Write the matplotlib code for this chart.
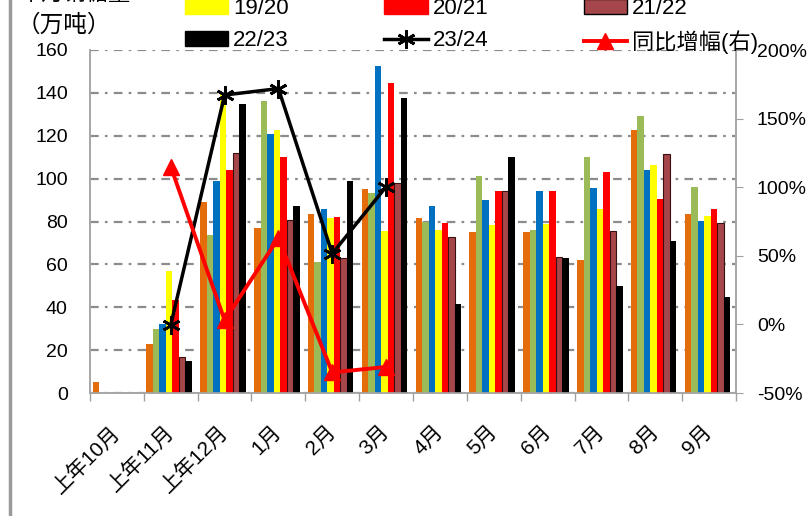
import numpy as np
import matplotlib
matplotlib.use('Agg')
import matplotlib.pyplot as plt
from matplotlib.patches import Patch
from matplotlib.lines import Line2D

plt.rcParams['font.family'] = ['Liberation Sans', 'Noto Sans CJK SC']

# 数据
months = ['上年10月', '上年11月', '上年12月', '1月', '2月', '3月',
          '4月', '5月', '6月', '7月', '8月', '9月']
s1617 = [5, 23, 89, 77, 83.5, 95, 81.5, 75, 75, 62, 122.5, 83.5]
s1718 = [0, 30, 73.7, 136, 61, 93.4, 80, 101, 76, 110, 129, 96]
s1819 = [0, 32, 99, 121, 85.7, 152.5, 87, 90, 94.4, 95.8, 104, 80.4]
s1920 = [0, 57, 140, 122.7, 81.8, 75.6, 76, 78.4, 79, 86, 106.3, 82.7]
s2021 = [0, 43.4, 104, 110, 82.3, 144.7, 79.4, 94, 94, 103, 90.6, 85.7]
s2122 = [0, 17, 112, 80.7, 62.8, 97.8, 73, 94, 63.6, 75.7, 111.3, 79.4]
s2223 = [0, 14.8, 135, 87.2, 99, 137.4, 41.5, 110.2, 62.8, 50.1, 71, 44.6]
s2324 = [31.7, 139, 142, 65, 96.2]          # 上年11月 ~ 3月
yoy = [115, 3, 63, -35, -31]                 # 同比增幅 %

bar_series = [s1617, s1718, s1819, s1920, s2021, s2122, s2223]
bar_names = ['16/17', '17/18', '18/19', '19/20', '20/21', '21/22', '22/23']
bar_colors = ['#E46C0A', '#9BBB59', '#0070C0', '#FFFF00', '#FF0000', '#A5474A', '#000000']

fig = plt.figure(figsize=(8.07, 5.16), dpi=100)
ax = fig.add_axes([90/807, 1-393/516, (736-90)/807, (393-50)/516])
ax2 = ax.twinx()

x = np.arange(len(months))
w = 0.121
for i, (vals, c) in enumerate(zip(bar_series, bar_colors)):
    ec = '#3a1010' if bar_names[i] == '21/22' else c
    ax.bar(x + (i - 3) * w - 0.03, vals, width=w, color=c, edgecolor=ec,
           linewidth=0.8 if bar_names[i] == '21/22' else 0, zorder=3)

xl = x[1:6]
ax.plot(xl, s2324, color='black', lw=2.5, marker=(6, 2, 0), ms=13, mew=2, zorder=5)
ax2.plot(xl, yoy, color='red', lw=2.8, marker='^', ms=12, zorder=6)

ax.set_xlim(-0.5, 11.5)
ax.set_ylim(0, 160)
ax.set_yticks(np.arange(0, 161, 20))
ax2.set_ylim(-50, 200)
ax2.set_yticks(np.arange(-50, 201, 50))
ax2.set_yticklabels([f'{v}%' for v in range(-50, 201, 50)])

# 网格线
ax.grid(axis='y', color='#8c8c8c', lw=1.6, linestyle=(0, (3.9, 2.8, 1.2, 2.8)), zorder=1)
ax.set_axisbelow(True)

# x轴: 分隔刻度 + 标签
ax.set_xticks(np.arange(-0.5, 12, 1))
ax.set_xticklabels([])
ax.tick_params(axis='x', which='major', length=6, color='#a0a0a0', width=1)
ax.set_xticks(x, minor=True)
ax.set_xticklabels(months, minor=True, rotation=45, ha='right', va='center',
                   rotation_mode='anchor', fontsize=15)
ax.tick_params(axis='x', which='minor', length=0, pad=26)

ax.tick_params(axis='y', length=0, pad=16, labelsize=14)
ax2.tick_params(axis='y', length=5, color='#a0a0a0', pad=10, labelsize=14)

for a in (ax, ax2):
    a.spines['top'].set_visible(False)
    for s in ('left', 'right', 'bottom'):
        a.spines[s].set_color('#a6a6a6')
        a.spines[s].set_linewidth(1.2)

# 图例 (第一行在图外被裁掉)
patches = []
for n, c in zip(bar_names, bar_colors):
    ec = 'black' if n == '21/22' else c
    patches.append(Patch(facecolor=c, edgecolor=ec, label=n))
h_2324 = Line2D([], [], color='black', lw=2.5, marker=(6, 2, 0), ms=13, mew=2, label='23/24')
h_yoy = Line2D([], [], color='red', lw=2.8, marker='^', ms=12, label='同比增幅(右)')
handles = [patches[0], patches[3], patches[6],
           patches[1], patches[4], h_2324,
           patches[2], patches[5], h_yoy]
fig.legend(handles=handles, labels=[h.get_label() for h in handles], ncol=3,
           loc='lower left', bbox_to_anchor=(185/807, 1-54/516), frameon=False,
           fontsize=16, handlelength=1.94, handleheight=0.63, handletextpad=0.22,
           columnspacing=4.3, labelspacing=0.5, borderpad=0, borderaxespad=0)

fig.text(75/807, 1+7/516, '单月销糖量', ha='center', va='center', fontsize=16,
         family='Noto Sans CJK SC')
fig.text(64/807, 1-25/516, '（万吨）', ha='center', va='center', fontsize=17,
         family='Noto Sans CJK SC')

fig.add_artist(Line2D([10/807, 10/807], [0, 1], color='#9a9a9a', lw=2.5))

fig.savefig('out.png', dpi=100)
